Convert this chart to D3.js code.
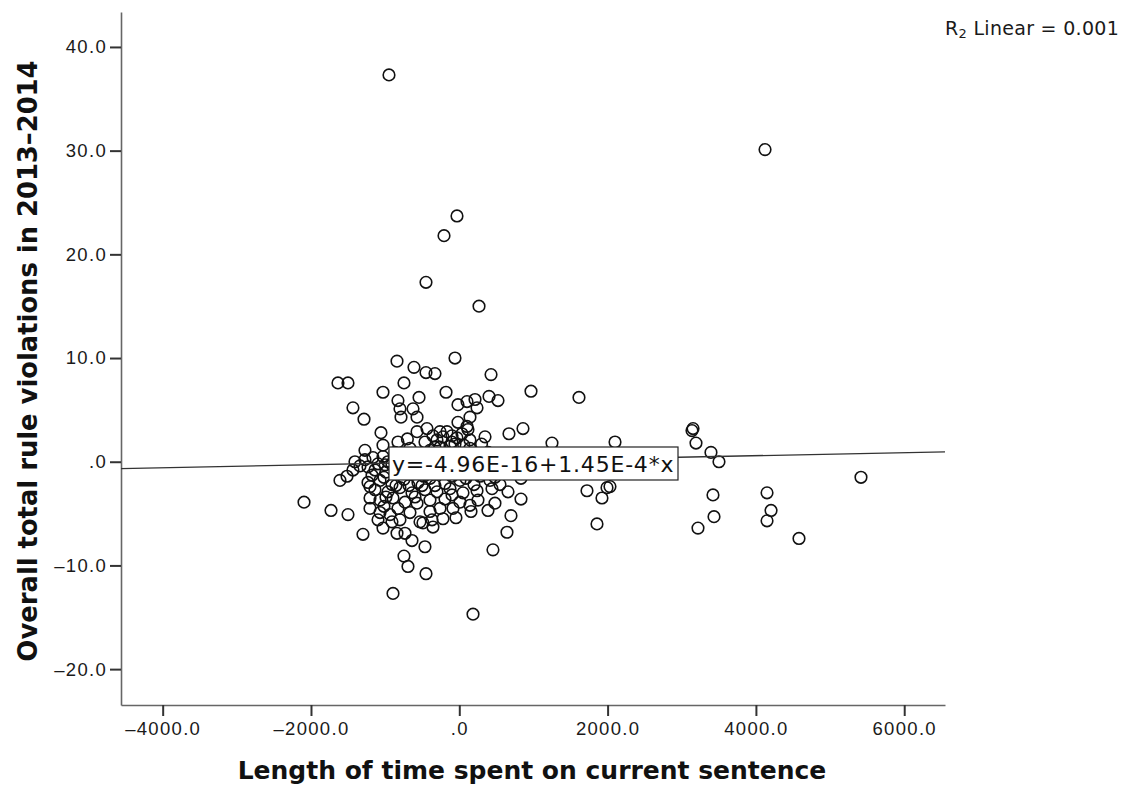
<!DOCTYPE html>
<html lang="en">
<head>
    <meta charset="utf-8">
    <title>Rule violations scatter</title>
    <script type="text/javascript" src="https://cdn.jsdelivr.net/npm/d3@7/dist/d3.min.js"></script>
    <style>
        body { margin: 0; background: #fff; }
        svg { display: block; font-family: "DejaVu Sans", Verdana, sans-serif; }
        .tick text { fill: #1a1a1a; }
    </style>
</head>
<body>
    <svg width="1125" height="786"></svg>

    <script type="text/javascript">
        // sentence time (x) vs overall rule violations (y)
        var timeSpent = [
            -948, 4123, -31, -206, -449, 266, -58, -840, -611, -449, -328, -1636, -1501, -746, 428,
            -1029, -179, 967, 1614, -543, 401, 522, -827, -1434, -800, -624, -786, -570, -1285,
            -18, 104, 212, 239, 144, -18, 104, 117, -570, -436, -260, -166, -1056, -1029, -827,
            347, 670, 859, 1250, 3152, 3138, 3192, 3394, 3502, 2100, -98, -31, 36, -220, -355, -301,
            -1407, -1272, -1164, -1029, -1609, -1514, -1434, -1339, -1231, -1137, -1096,
            -2094, -1730, -1501, -1299, -1029, -840, -732, -638, -746, -692, -463, -449, -894, 185,
            454, 643, 697, 832, 158, -85, -220, -368, -355, -490, -1204, -1069, -935, -908, -530,
            -570, -1204, -1204,
            5417, 1722, 1924, 2032, 1992, 1857, 3421, 3435, 3219, 4150, 4204, 4150, 4581, 832,
            -1272, -867, -665, -395, -125, 144, 388,
            -962, -800, -530, -260, 9, 252, 549,
            -1177, -989, -827, -638, -449, -247, -58, 144, 360, 616, 819,
            -1231, -1069, -908, -746, -557, -395, -193, 9, 198, 414, 549,
            -1137, -962, -800, -638, -463, -301, -125, 50, 239, 441, 657,
            -1069, -894, -732, -395, -193, 9, 252, 481,
            -1016, -827, -260, 387, -45, -665, -800, -1096,
            -100, 60, -330, -700, 300, -1000, -480, -150,
            -908, -732, -557, -368, -166, 36, 225, 414, -1016, -854, -678, -503, -328, -98, 90,
            279, 481, -260, -58, -463, 144, -665, -395, -152, 117, -989, -597, -98, 144, -395
        ];
        var violations = [
            37.3, 30.1, 23.7, 21.8, 17.3, 15.0, 10.0, 9.7, 9.1, 8.6, 8.5, 7.6, 7.6, 7.6, 8.4,
            6.7, 6.7, 6.8, 6.2, 6.2, 6.3, 5.9, 5.9, 5.2, 5.1, 5.1, 4.3, 4.3, 4.1,
            5.5, 5.8, 6.0, 5.2, 4.3, 3.8, 3.4, 3.1, 2.9, 3.2, 2.9, 2.9, 2.8, 1.6, 1.9,
            2.4, 2.7, 3.2, 1.8, 3.2, 3.0, 1.8, 0.9, 0.0, 1.9, 2.5, 2.3, 2.7, 2.4, 2.5, 2.1,
            0.0, 0.2, 0.4, 0.5, -1.8, -1.4, -0.8, -0.4, -0.5, -0.8, -0.2,
            -3.9, -4.7, -5.1, -7.0, -6.4, -6.9, -6.9, -7.6, -9.1, -10.1, -8.2, -10.8, -12.7, -14.7,
            -8.5, -6.8, -5.2, -3.6, -4.8, -4.5, -5.5, -5.6, -6.3, -5.9, -4.5, -4.9, -5.1, -5.8, -5.8,
            -4.0, -3.5, -2.4,
            -1.5, -2.8, -3.5, -2.4, -2.5, -6.0, -3.2, -5.3, -6.4, -3.0, -4.7, -5.7, -7.4, -1.6,
            1.1, 0.9, 1.3, 1.1, 1.5, 1.3, 0.9,
            0.0, 0.4, 0.5, 0.2, 0.6, 0.3, 0.5,
            -1.3, -1.0, -0.8, -1.2, -0.8, -1.0, -0.6, -1.2, -0.8, -0.6, -0.9,
            -2.0, -1.8, -2.2, -1.7, -2.0, -1.6, -2.1, -1.8, -2.2, -1.8, -2.2,
            -2.7, -2.9, -2.5, -3.0, -2.7, -2.9, -2.6, -3.0, -2.8, -2.6, -2.9,
            -3.7, -3.5, -3.9, -3.7, -3.6, -3.9, -3.7, -4.0,
            -4.3, -4.5, -4.5, -4.7, -5.4, -4.9, -5.6, -5.6,
            1.9, 1.6, 1.4, 2.2, 1.7, -0.3, -1.4, -0.4,
            -0.3, -0.4, -0.1, -0.3, -0.1, -0.4, -0.4, -0.1, -1.5, -2.3, -2.3, -2.3, -2.3, -1.4, -1.6,
            -1.4, -1.5, 1.4, 1.7, 1.9, 2.1, 0.6, 0.4, 0.5, 0.6, -3.4, -3.4, -3.2, -4.2, -4.8
        ];
        var xTicks = [-4000, -2000, 0, 2000, 4000, 6000];
        var yTicks = [-20, -10, 0, 10, 20, 30, 40];
        var fitIntercept = -4.96e-16;
        var fitSlope = 1.45e-4;
        var fitLabel = "y=-4.96E-16+1.45E-4*x";

        var svg = d3.select("svg");
        var x = d3.scaleLinear().domain([-4562, 6550]).range([121, 945]);
        var y = d3.scaleLinear().domain([-23.46, 43.37]).range([705, 12]);

        function fmt(d) {
            if (d === 0) return ".0";
            return d.toFixed(1).replace("-", "\u2013");
        }

        // axes
        svg.append("g")
            .attr("transform", "translate(0,705)")
            .call(d3.axisBottom(x).tickValues(xTicks).tickFormat(fmt)
                .tickSizeInner(11).tickSizeOuter(0).tickPadding(6));
        svg.append("g")
            .attr("transform", "translate(121,0)")
            .call(d3.axisLeft(y).tickValues(yTicks).tickFormat(fmt)
                .tickSizeInner(11).tickSizeOuter(0).tickPadding(3));
        svg.selectAll(".domain").attr("stroke", "#666").attr("stroke-width", 1.6);
        svg.selectAll(".tick line").attr("stroke", "#333").attr("stroke-width", 2);
        svg.selectAll(".tick text").attr("font-size", 18.5).attr("letter-spacing", 1.3);

        // points
        var pts = timeSpent.map(function (d, i) { return [d, violations[i]]; });
        svg.append("g").selectAll("circle")
            .data(pts)
            .enter()
            .append("circle")
            .attr("cx", function (d) { return x(d[0]); })
            .attr("cy", function (d) { return y(d[1]); })
            .attr("r", 5.8)
            .attr("fill", "none")
            .attr("stroke", "#111")
            .attr("stroke-width", 1.6);

        // fit line
        var xd = x.domain();
        svg.append("line")
            .attr("x1", x(xd[0])).attr("y1", y(fitIntercept + fitSlope * xd[0]))
            .attr("x2", x(xd[1])).attr("y2", y(fitIntercept + fitSlope * xd[1]))
            .attr("stroke", "#333")
            .attr("stroke-width", 1.4);

        // fit label box
        var lbl = svg.append("g").attr("transform", "translate(389,447)");
        lbl.append("rect")
            .attr("width", 289).attr("height", 33)
            .attr("fill", "#fff").attr("stroke", "#222").attr("stroke-width", 1.2);
        lbl.append("text")
            .attr("x", 3).attr("y", 25)
            .attr("font-size", 22)
            .attr("letter-spacing", 0.8)
            .attr("fill", "#111")
            .text(fitLabel);

        // R squared note
        var r2 = svg.append("text")
            .attr("x", 945).attr("y", 35)
            .attr("font-size", 19)
            .attr("letter-spacing", 0.3)
            .attr("fill", "#1a1a1a");
        r2.append("tspan").text("R");
        r2.append("tspan").attr("font-size", 13).attr("dy", 3).text("2");
        r2.append("tspan").attr("dy", -3).text(" Linear = 0.001");

        // axis titles
        svg.append("text")
            .attr("x", 532).attr("y", 779)
            .attr("text-anchor", "middle")
            .attr("font-size", 25).attr("font-weight", "bold")
            .attr("fill", "#111")
            .text("Length of time spent on current sentence");
        svg.append("text")
            .attr("transform", "translate(37,361) rotate(-90)")
            .attr("text-anchor", "middle")
            .attr("font-size", 25.8).attr("font-weight", "bold")
            .attr("fill", "#111")
            .text("Overall total rule violations in 2013\u20132014");
    </script>
</body>
</html>
